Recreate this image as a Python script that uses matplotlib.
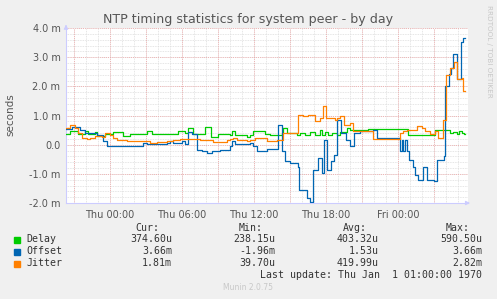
import numpy as np
import matplotlib
matplotlib.use("Agg")
import matplotlib.pyplot as plt
from matplotlib.ticker import MultipleLocator, FixedLocator

# hours relative to Thu 00:00, values in milliseconds (step changes)
delay_t = [-3.67, -3.33, -2.64, -2.08, -1.81, -1.25, -1.11, -0.42, 0.28, 1.11, 1.67, 3.06, 3.47,
           5.69, 6.25, 6.53, 6.89, 7.92, 8.39, 9.03, 10.0, 10.14, 10.42, 11.39, 11.67, 11.94,
           12.92, 13.33, 14.31, 14.44, 14.72, 15.56, 15.83, 16.25, 16.67, 17.08, 17.5, 17.64,
           17.92, 18.19, 18.47, 18.89, 19.17, 19.72, 20.0, 21.5, 24.86, 27.08, 28.0, 28.3,
           28.6, 28.9, 29.1, 29.3, 29.5]
delay_v = [0.38, 0.47, 0.38, 0.48, 0.38, 0.43, 0.31, 0.38, 0.45, 0.31, 0.38, 0.47, 0.38,
           0.48, 0.40, 0.57, 0.38, 0.60, 0.28, 0.38, 0.34, 0.47, 0.34, 0.26, 0.32, 0.46,
           0.38, 0.32, 0.40, 0.57, 0.40, 0.32, 0.40, 0.34, 0.42, 0.32, 0.52, 0.34,
           0.45, 0.32, 0.40, 0.32, 0.43, 0.57, 0.52, 0.55, 0.34, 0.52, 0.50, 0.40,
           0.45, 0.35, 0.48, 0.40, 0.37]

offset_t = [-3.67, -3.19, -2.5, -2.08, -1.11, -0.56, -0.28, 0.42, 1.67, 2.78, 3.06, 4.72, 5.0,
            5.28, 5.97, 6.25, 6.53, 6.81, 7.22, 7.64, 8.06, 8.47, 9.17, 10.0, 10.14, 10.42,
            11.67, 11.94, 12.22, 13.06, 13.97, 14.31, 14.58, 15.0, 15.69, 15.78, 16.39, 16.67,
            16.89, 17.36, 17.67, 17.86, 18.06, 18.39, 18.67, 18.94, 19.22, 19.67, 20.03, 20.33,
            20.83, 21.94, 22.22, 24.19, 24.31, 24.44, 24.58, 24.72, 24.94, 25.28, 25.42, 25.69,
            26.11, 26.39, 26.97, 27.25, 27.8, 27.94, 28.28, 28.44, 28.6, 28.92, 29.25, 29.45]
offset_v = [0.55, 0.62, 0.52, 0.40, 0.32, 0.11, -0.06, -0.03, -0.06, 0.06, 0.03, 0.06, 0.11,
            0.06, 0.11, 0.03, 0.42, 0.36, -0.17, -0.23, -0.29, -0.20, -0.17, -0.06, 0.11, 0.03,
            0.06, -0.06, -0.23, -0.14, 0.69, -0.20, -0.57, -0.63, -0.75, -1.55, -1.84, -1.95,
            -0.86, -0.46, -0.98, 0.17, -0.86, -0.57, -0.34, 0.86, 0.40, 0.17, -0.06, 0.40,
            0.46, 0.52, 0.22, -0.23, 0.17, -0.23, 0.17, -0.20, -0.52, -0.75, -1.03, -1.21,
            -0.75, -1.21, -1.26, -0.52, -0.40, 2.01, 2.41, 2.64, 3.10, 2.24, 3.51, 3.66]

jitter_t = [-3.67, -3.33, -2.92, -2.64, -2.36, -1.94, -1.67, -1.25, -0.97, -0.69, -0.42, 0.0,
            0.28, 0.56, 1.39, 2.5, 3.33, 3.89, 4.72, 5.28, 5.83, 7.5, 8.61, 9.72, 10.0, 10.28,
            10.56, 11.39, 11.67, 12.08, 13.06, 13.89, 14.44, 15.69, 16.11, 16.53, 17.08, 17.5,
            17.78, 18.0, 18.75, 18.94, 19.17, 19.5, 20.0, 20.28, 21.94, 24.17, 24.44, 24.72,
            25.28, 25.56, 25.97, 26.25, 26.67, 27.08, 27.36, 27.72, 28.0, 28.33, 28.64, 28.94,
            29.31, 29.44]
jitter_v = [0.57, 0.66, 0.57, 0.40, 0.23, 0.18, 0.23, 0.29, 0.31, 0.26, 0.40, 0.34,
            0.23, 0.15, 0.13, 0.12, 0.06, 0.09, 0.12, 0.15, 0.18, 0.15, 0.09, 0.15, 0.18, 0.23,
            0.15, 0.12, 0.17, 0.23, 0.12, 0.17, 0.40, 1.03, 0.97, 1.03, 0.80, 0.92,
            1.32, 0.92, 0.86, 0.92, 0.97, 0.69, 0.75, 0.46, 0.19, 0.40, 0.46, 0.52,
            0.52, 0.63, 0.57, 0.46, 0.35, 0.46, 0.23, 0.86, 2.38, 2.64, 2.85, 2.24,
            2.30, 1.84]

series_names = ["Delay", "Offset", "Jitter"]
series_colors = ["#00CC00", "#0066B3", "#FF8000"]
cur_vals = ["374.60u", "3.66m", "1.81m"]
min_vals = ["238.15u", "-1.96m", "39.70u"]
avg_vals = ["403.32u", "1.53u", "419.99u"]
max_vals = ["590.50u", "3.66m", "2.82m"]

x_ticks = [0, 6, 12, 18, 24]
x_labels = ["Thu 00:00", "Thu 06:00", "Thu 12:00", "Thu 18:00", "Fri 00:00"]
y_ticks = [-2, -1, 0, 1, 2, 3, 4]
y_labels = ["-2.0 m", "-1.0 m", "0.0", "1.0 m", "2.0 m", "3.0 m", "4.0 m"]

t_start, t_end = -3.67, 29.83
t_last = 29.6

W, H = 497, 299
fig = plt.figure(figsize=(W / 100, H / 100), dpi=100, facecolor="#F0F0F0")
ax = fig.add_axes([66 / W, 1 - 203 / H, (468 - 66) / W, (203 - 28) / H])
ax.set_facecolor("white")

for t, v, c in zip([delay_t, offset_t, jitter_t], [delay_v, offset_v, jitter_v], series_colors):
    ax.step(list(t) + [t_last], list(v) + [v[-1]], where="post", color=c, lw=0.9, zorder=3)

ax.set_xlim(t_start, t_end)
ax.set_ylim(-2.0, 4.0)

ax.xaxis.set_major_locator(FixedLocator(x_ticks))
ax.set_xticklabels(x_labels)
ax.yaxis.set_major_locator(FixedLocator(y_ticks))
ax.set_yticklabels(y_labels)
ax.xaxis.set_minor_locator(MultipleLocator(1))
ax.yaxis.set_minor_locator(MultipleLocator(0.2))

# minor grey grid, major red grid
for h in np.arange(-3, 30, 1):
    ax.axvline(h, color="#DDDDDD", lw=0.6, ls=(0, (1, 1)), zorder=1)
for v in np.arange(-2, 4.01, 0.2):
    ax.axhline(v, color="#DDDDDD", lw=0.6, ls=(0, (1, 1)), zorder=1)
for h in np.arange(-3, 30, 3):
    ax.axvline(h, color="#F0A0A0", lw=0.6, ls=(0, (1, 1.5)), zorder=2)
for v in y_ticks:
    ax.axhline(v, color="#F0A0A0", lw=0.6, ls=(0, (1, 1.5)), zorder=2)

for s in ["top", "right"]:
    ax.spines[s].set_visible(False)
for s in ["left", "bottom"]:
    ax.spines[s].set_color("#CCCCFF")
    ax.spines[s].set_linewidth(0.8)
ax.tick_params(which="both", length=0, colors="#555555", labelsize=7, pad=4)
ax.tick_params(axis="x", pad=5)

# axis arrows
ax.annotate("", xy=(1.012, 0), xycoords="axes fraction", xytext=(0.99, 0),
            arrowprops=dict(arrowstyle="-|>", color="#CCCCFF", lw=0.8, mutation_scale=6))
ax.annotate("", xy=(0, 1.035), xycoords="axes fraction", xytext=(0, 0.99),
            arrowprops=dict(arrowstyle="-|>", color="#CCCCFF", lw=0.8, mutation_scale=6))

fig.text(248 / W, 1 - 19 / H, "NTP timing statistics for system peer - by day",
         ha="center", va="center", fontsize=9.1, color="#555555")
fig.text(10 / W, 1 - 115 / H, "seconds", rotation=90, ha="center", va="center",
         fontsize=7.5, color="#555555")
fig.text(489 / W, 1 - 5 / H, "RRDTOOL / TOBI OETIKER", rotation=270, ha="center", va="top",
         fontsize=5.2, color="#C8C8C8")

# legend block
mono = "DejaVu Sans Mono"
fs = 7.1
tc = "#333333"
col_ends = [159, 263, 367, 470]
val_ends = [172, 275, 379, 482]
for x, hdr in zip(col_ends, ["Cur:", "Min:", "Avg:", "Max:"]):
    fig.text(x / W, 1 - 228 / H, hdr, ha="right", va="center", family=mono, fontsize=fs, color=tc)
rows_y = [239.5, 251.5, 263.5]
for i, (name, c) in enumerate(zip(series_names, series_colors)):
    y = 1 - rows_y[i] / H
    fig.patches.append(plt.Rectangle((14 / W, y - 3 / H), 6 / W, 6 / H, color=c,
                                     transform=fig.transFigure, figure=fig))
    fig.text(26 / W, y, name, ha="left", va="center", family=mono, fontsize=fs, color=tc)
    for x, vals in zip(val_ends, [cur_vals, min_vals, avg_vals, max_vals]):
        fig.text(x / W, y, vals[i], ha="right", va="center", family=mono, fontsize=fs, color=tc)
fig.text(482 / W, 1 - 275.5 / H, "Last update: Thu Jan  1 01:00:00 1970", ha="right",
         va="center", family=mono, fontsize=fs, color=tc)
fig.text(248 / W, 1 - 288 / H, "Munin 2.0.75", ha="center", va="center",
         fontsize=5.5, color="#C8C8C8")

fig.savefig("out.png", dpi=100, facecolor=fig.get_facecolor())
